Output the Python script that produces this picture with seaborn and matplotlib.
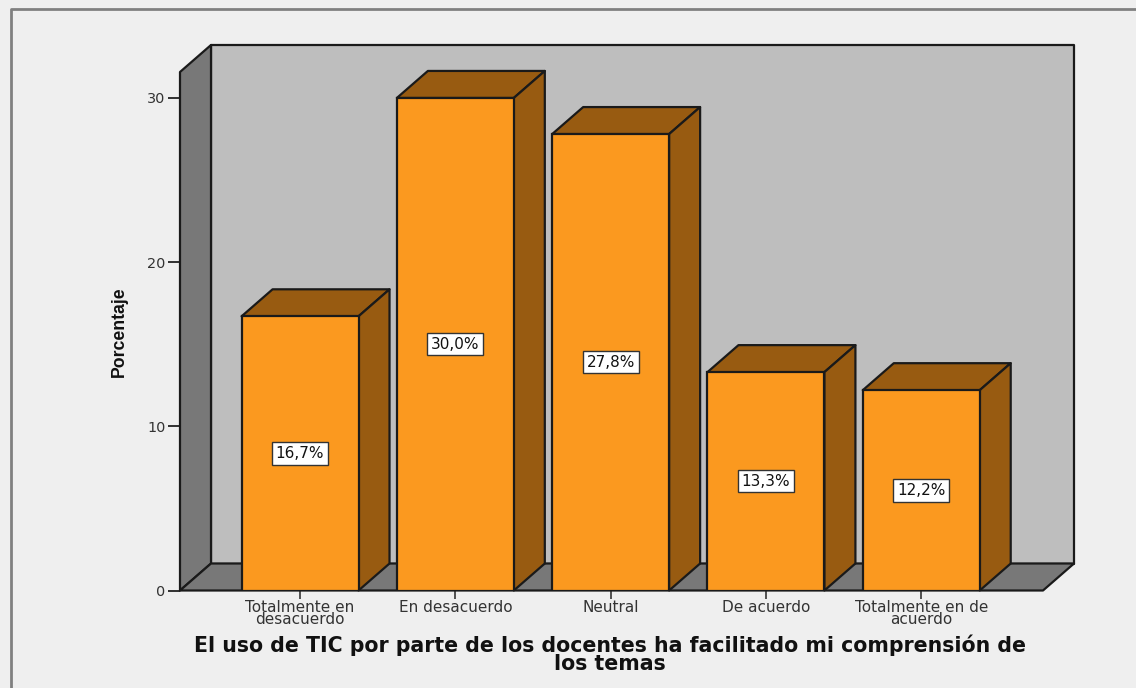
#!/usr/bin/env python3

import matplotlib
matplotlib.use('Agg')
from matplotlib import pyplot as plt
from matplotlib.lines import Line2D
from matplotlib.patches import Polygon
import pandas as pd
import seaborn as sns

categories = ['Totalmente en\ndesacuerdo', 'En desacuerdo', 'Neutral', 'De acuerdo', 'Totalmente en de\nacuerdo']
percent = [16.7, 30.0, 27.8, 13.3, 12.2]
percent_labels = ['16,7%', '30,0%', '27,8%', '13,3%', '12,2%']
y_ticks = [0, 10, 20, 30]
x_title = 'El uso de TIC por parte de los docentes ha facilitado mi comprensión de\nlos temas'
y_title = 'Porcentaje'

W, H = 1136, 688
BG = '#efefef'
WALL = '#bebebe'
SIDE = '#787878'
ORANGE = '#fb991f'
DARK_ORANGE = '#985b11'
EDGE = '#1a1a1a'

sns.set_theme(style='white')
plt.rcParams['font.family'] = ['DejaVu Sans']

fig = plt.figure(figsize=(W / 100, H / 100), dpi=100, facecolor=BG)
# front plane of the 3d box, in pixels from the picture
ax = fig.add_axes([180 / W, 1 - 590.5 / H, 863 / W, 518.5 / H])
ax.patch.set_visible(False)

df = pd.DataFrame({'cat': categories, 'pct': percent})
sns.barplot(data=df, x='cat', y='pct', ax=ax, color=ORANGE, saturation=1, width=0.753,
            edgecolor=EDGE, linewidth=1.6, zorder=5)
xmin, xmax = -0.773, 4.784
ymax = 31.58
ax.set_xlim(xmin, xmax)
ax.set_ylim(0, ymax)

# depth of the box, 31px right and 27px up
dx = 31 / 863 * (xmax - xmin)
dy = 27 / 518.5 * ymax


def face(points, color, zorder):
    ax.add_patch(Polygon(points, closed=True, facecolor=color, edgecolor=EDGE, linewidth=1.6,
                         clip_on=False, zorder=zorder, joinstyle='round'))


face([(xmin + dx, dy), (xmax + dx, dy), (xmax + dx, ymax + dy), (xmin + dx, ymax + dy)], WALL, 1)
face([(xmin, 0), (xmin + dx, dy), (xmin + dx, ymax + dy), (xmin, ymax)], SIDE, 2)
face([(xmin, 0), (xmax, 0), (xmax + dx, dy), (xmin + dx, dy)], SIDE, 2)

for bar in ax.containers[0]:
    x0, x1 = bar.get_x(), bar.get_x() + bar.get_width()
    h = bar.get_height()
    face([(x0, h), (x1, h), (x1 + dx, h + dy), (x0 + dx, h + dy)], DARK_ORANGE, 4)
    face([(x1, 0), (x1 + dx, dy), (x1 + dx, h + dy), (x1, h)], DARK_ORANGE, 4)

ax.bar_label(ax.containers[0], labels=percent_labels, label_type='center', fontsize=11, color='#111111', zorder=8,
             bbox=dict(boxstyle='square,pad=0.24', facecolor='white', edgecolor='#333333', linewidth=1))

sns.despine(ax=ax, top=True, right=True, left=True, bottom=True)
ax.set_yticks(y_ticks)
ax.tick_params(axis='y', left=True, length=8.5, width=1.3, color='#222222', labelsize=10.4, labelcolor='#333333', pad=2)
ax.tick_params(axis='x', bottom=True, length=5.5, width=1.3, color='#444444', labelsize=11, labelcolor='#333333', pad=1)
for lab in ax.get_xticklabels():
    lab.set_linespacing(0.75)

ax.set_xlabel(x_title, fontsize=14.8, fontweight='bold', color='#111111', linespacing=0.85)
ax.xaxis.set_label_coords(0.498, -0.1225, transform=ax.transAxes)
ax.xaxis.label.set_verticalalignment('center')
ax.set_ylabel(y_title, fontsize=12.7, fontweight='bold', color='#111111', family=['Liberation Sans Narrow', 'Liberation Sans'])
ax.yaxis.set_label_coords(-0.0602, 0.5, transform=ax.transAxes)

# outer frame of the chart window
fig.add_artist(Line2D([10.5 / W, 10.5 / W, 1], [0, 1 - 9 / H, 1 - 9 / H], color='#808080', linewidth=2))

fig.savefig('out.png', dpi=100, facecolor=BG)
